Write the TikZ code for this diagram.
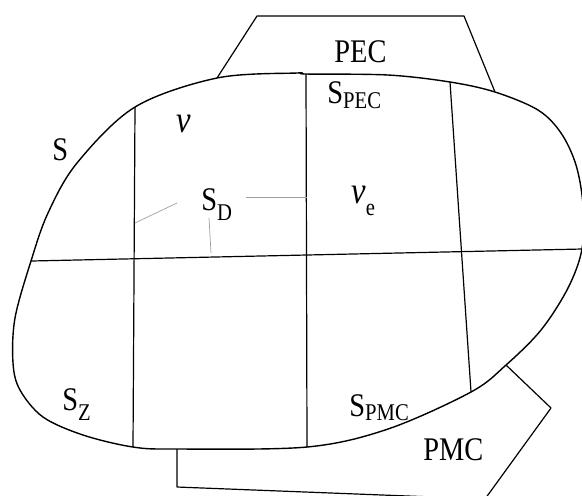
\documentclass[tikz,border=0pt]{standalone}
\usepackage{fontspec}
\setmainfont{Liberation Serif}[FakeStretch=0.86]
\usetikzlibrary{positioning}
\newcommand{\sublab}[3]{#1\raisebox{-#2}{\fontsize{12}{12}\selectfont #3}}

\begin{document}
\begin{tikzpicture}[x=0.5pt,y=-0.5pt,
    edge/.style={line width=0.6pt,line join=round},
    leader/.style={gray!75,line width=0.35pt},
    lab/.style={inner sep=0,anchor=base west,font=\fontsize{16.5}{16.5}\selectfont}]
  \useasboundingbox (0,0) rectangle (582,495);

  % points where the cuts meet the surface S
  \coordinate (t1) at (135,107);
  \coordinate (t2) at (306,74);
  \coordinate (t3) at (450,82);
  \coordinate (b1) at (133,447);
  \coordinate (b2) at (307,447);
  \coordinate (b3) at (471,392);
  \coordinate (hl) at (31,261);
  \coordinate (hr) at (582,249);
  \coordinate (pecl) at (217,78);
  \coordinate (pecr) at (495,92);
  \coordinate (pmcl) at (177,449);
  \coordinate (pmcr) at (506,365);

  % the surface S
  \draw[edge,line width=0.7pt] plot[smooth cycle,tension=0.55] coordinates {
    (t1) (pecl) (297,73) (t2) (388,75) (t3) (pecr) (538,110) (561,133) (576,165)
    (583,205) (hr) (568,288) (541,330) (pmcr) (b3) (388,429) (b2)
    (pmcl) (b1) (83,435) (43,417) (20,390) (13,363) (15,318) (hl)
    (48,213) (77,163)};

  % PEC and PMC blocks
  \draw[edge] (pecl) -- (257,16) -- (464,16) -- (pecr);
  \draw[edge] (pmcl) -- (177,487) -- (485,499) -- (551,408) -- (pmcr);

  % cuts
  \draw[edge] (t1) -- (b1);
  \draw[edge] (t2) -- (b2);
  \draw[edge] (t3) -- (b3);
  \draw[edge] (hl) -- (hr);

  % labels
  \node[lab] (s) at (52,160) {S};
  \node[lab,font=\fontsize{19}{19}\selectfont\itshape] (v) at (176,132) {v};
  \node[lab] (pec) at (334,62) {PEC};
  \node[lab] (spec) at (327,103) {\sublab{S}{2.5pt}{PEC}};
  \node[lab] (sd) at (201,210) {\sublab{S}{5pt}{D}};
  \node[lab] (ve) at (351,203) {\textit{\fontsize{19}{19}\selectfont v}\raisebox{-6pt}{\fontsize{12}{12}\selectfont e}};
  \node[lab] (sz) at (62,410) {\sublab{S}{5pt}{Z}};
  \node[lab] (spmc) at (349,416) {\sublab{S}{2pt}{PMC}};
  \node[lab] (pmc) at (423,460) {PMC};

  % leaders from S_D to the cuts
  \coordinate (d1) at (177,203);
  \coordinate (d2) at (246,197);
  \coordinate (d3) at (209,218);
  \coordinate (e1) at (135,223);
  \coordinate (e2) at (307,197);
  \coordinate (e3) at (211,253);
  \draw[leader] (d1) -- (e1);
  \draw[leader] (d2) -- (e2);
  \draw[leader] (d3) -- (e3);
\end{tikzpicture}
\end{document}
